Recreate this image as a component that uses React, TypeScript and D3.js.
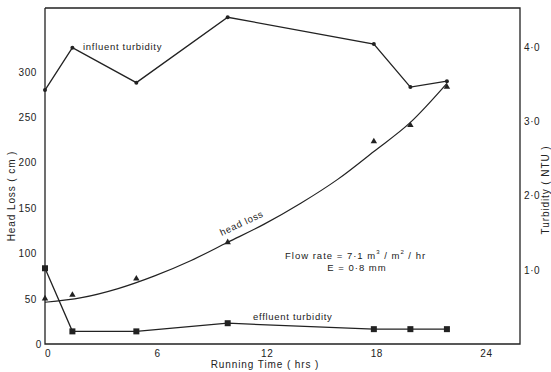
import React from "react";
import * as d3 from "d3";

const hours = [0, 1.5, 5, 10, 18, 20, 22];
const influentNTU = [3.42, 3.99, 3.52, 4.4, 4.04, 3.46, 3.54];
const effluentNTU = [1.02, 0.17, 0.17, 0.28, 0.2, 0.2, 0.2];
const headLossCm = [50, 54, 72, 112, 223, 241, 283];
const curveHours = [0, 2, 4, 6, 8, 10, 12, 14, 16, 18, 20, 22];
const curveHeadLoss = [46, 51, 61, 75, 92, 112, 132, 155, 181, 212, 244, 287];
const xTicks = [0, 6, 12, 18, 24];
const leftTicks = [0, 50, 100, 150, 200, 250, 300];
const rightTicks = [1, 2, 3, 4];

const W = 551, H = 372;
const L = 45, R = 520, T = 8, B = 344;
const FONT = "'Liberation Sans', Arial, sans-serif";

export default function App() {
  const x = d3.scaleLinear().domain([0, 26]).range([L, R]);
  const yL = d3.scaleLinear().domain([0, 370]).range([B, T]);
  const yR = d3.scaleLinear().domain([0, 4.525]).range([B, T]);

  const lineR = d3.line<number>().x((_, i) => x(hours[i])).y((d) => yR(d));
  const curve = d3
    .line<number>()
    .x((_, i) => x(curveHours[i]))
    .y((d) => yL(d))
    .curve(d3.curveMonotoneX);
  const tri = d3.symbol().type(d3.symbolTriangle).size(18)();

  return (
    <svg width={W} height={H} style={{ position: "absolute", left: 0, top: 0, background: "#fff" }}>
      <rect x={0} y={0} width={W} height={H} fill="#fff" />
      <g stroke="#222" strokeWidth={1.3} fill="none">
        <path d={`M${L},${T}V${B}H${R}V${T}H${L}`} />
      </g>
      <g fontFamily={FONT} fontSize={10} fill="#222" letterSpacing={0.6}>
        {xTicks.map((t) => (
          <text key={t} x={x(t) + 3} y={357} textAnchor="middle">{t}</text>
        ))}
        {leftTicks.map((t) => (
          <text key={t} x={t === 0 ? 42 : 37} y={yL(t) + 4} textAnchor="end">{t}</text>
        ))}
        {rightTicks.map((t) => (
          <text key={t} x={524} y={yR(t) + 4}>{t.toFixed(1).replace(".", "·")}</text>
        ))}
        <text x={265} y={368} textAnchor="middle" letterSpacing={0.9}>Running Time  ( hrs )</text>
        <text transform="translate(15,196) rotate(-90)" textAnchor="middle" letterSpacing={0.9}>Head Loss  ( cm )</text>
        <text transform="translate(549,190) rotate(-90)" textAnchor="middle" letterSpacing={0.9}>Turbidity  ( NTU )</text>
      </g>
      <path d={lineR(influentNTU) || ""} fill="none" stroke="#222" strokeWidth={1.3} />
      <path d={lineR(effluentNTU) || ""} fill="none" stroke="#222" strokeWidth={1.3} />
      <path d={curve(curveHeadLoss) || ""} fill="none" stroke="#222" strokeWidth={1.2} />
      {influentNTU.map((v, i) => (
        <circle key={i} cx={x(hours[i])} cy={yR(v)} r={2} fill="#222" />
      ))}
      {effluentNTU.map((v, i) => (
        <rect key={i} x={x(hours[i]) - 3} y={yR(v) - 3} width={6} height={6} fill="#222" />
      ))}
      {headLossCm.map((v, i) => (
        <path key={i} d={tri || ""} transform={`translate(${x(hours[i])},${yL(v)})`} fill="#222" />
      ))}
      <g fontFamily={FONT} fontSize={9.5} fill="#222" letterSpacing={0.7}>
        <text x={83} y={50}>influent  turbidity</text>
        <text x={253} y={320}>effluent  turbidity</text>
        <text transform="translate(243,226) rotate(-25)" textAnchor="middle">head  loss</text>
        <text x={285} y={259} letterSpacing={1}>
          Flow rate = 7·1 m<tspan dy={-5} fontSize={6}>3</tspan>
          <tspan dy={5}> / m</tspan>
          <tspan dy={-5} fontSize={6}>2</tspan>
          <tspan dy={5}> / hr</tspan>
        </text>
        <text x={357} y={271} textAnchor="middle" letterSpacing={1}>E = 0·8 mm</text>
      </g>
    </svg>
  );
}
